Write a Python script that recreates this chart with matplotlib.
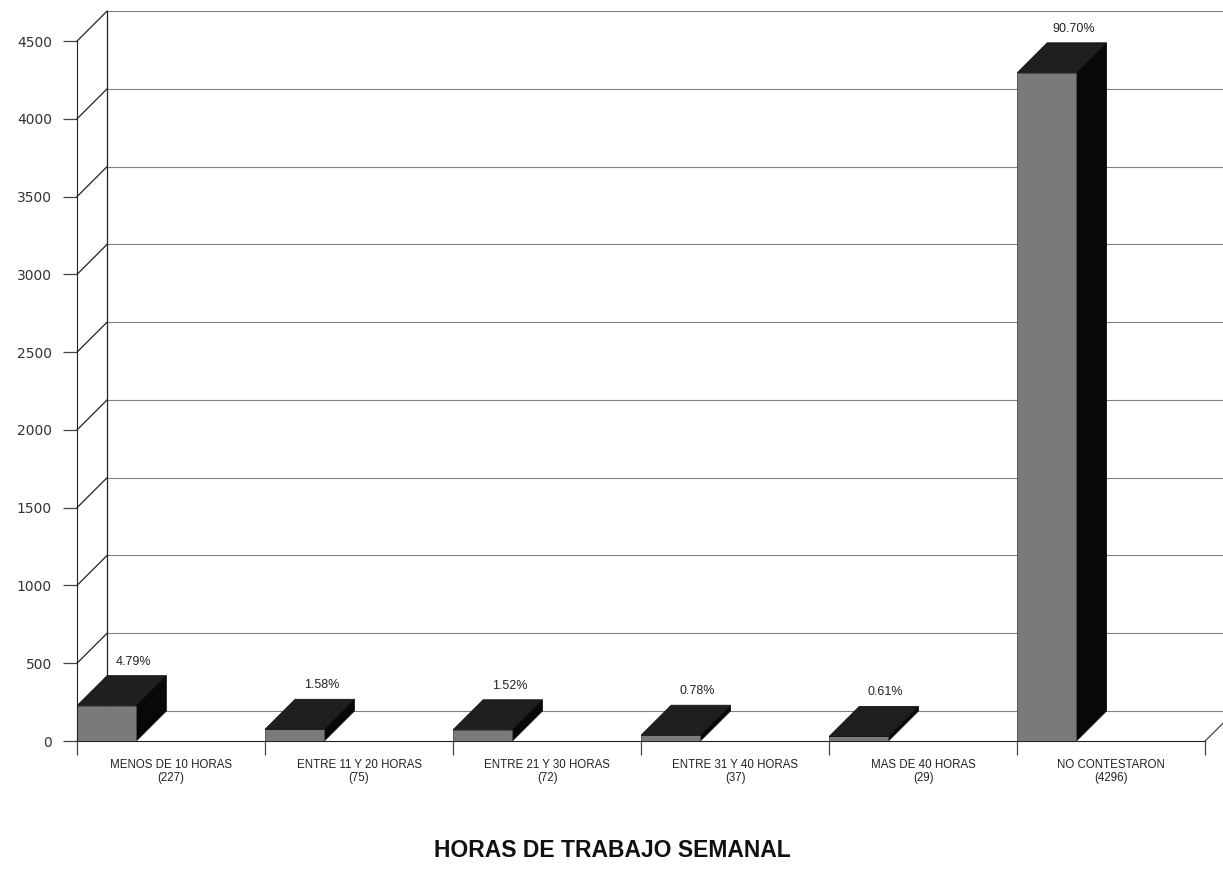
import matplotlib.pyplot as plt
from matplotlib.patches import Polygon
import numpy as np

# data
categorias = ['MENOS DE 10 HORAS', 'ENTRE 11 Y 20 HORAS', 'ENTRE 21 Y 30 HORAS',
              'ENTRE 31 Y 40 HORAS', 'MAS DE 40 HORAS', 'NO CONTESTARON']
valores = [227, 75, 72, 37, 29, 4296]
porcentajes = ['4.79%', '1.58%', '1.52%', '0.78%', '0.61%', '90.70%']
yticks = [0, 500, 1000, 1500, 2000, 2500, 3000, 3500, 4000, 4500]

# fake 3d depth, in data units
dx = 0.16
dy = 193
bw = 0.315
ymax = 4500

fig = plt.figure(figsize=(12.23, 8.72), dpi=100)
ax = fig.add_axes([77/1223, 131/872, 1147/1223, 731/872])
ax.set_xlim(0, 6.1)
ax.set_ylim(0, 4700)

n = len(categorias)
xend = 6.1

# left wall + back wall grid
for v in yticks:
    ax.plot([0, dx], [v, v + dy], color='#222222', lw=0.9, clip_on=False)
    ax.plot([dx, xend], [v + dy, v + dy], color='#808080', lw=0.8, clip_on=False)
ax.plot([dx, dx], [dy, ymax + dy], color='#222222', lw=0.9, clip_on=False)
# floor
ax.plot([n, n + dx], [0, dy], color='#444444', lw=0.9, clip_on=False)

# bars
for i, v in enumerate(valores):
    x0 = i
    x1 = i + bw
    front = Polygon([(x0, 0), (x1, 0), (x1, v), (x0, v)], closed=True,
                    facecolor='#7a7a7a', edgecolor='#4a4a4a', lw=0.6, zorder=3)
    top = Polygon([(x0, v), (x1, v), (x1 + dx, v + dy), (x0 + dx, v + dy)], closed=True,
                  facecolor='#1f1f1f', edgecolor='#111111', lw=0.6, zorder=3)
    side = Polygon([(x1, 0), (x1 + dx, dy), (x1 + dx, v + dy), (x1, v)], closed=True,
                   facecolor='#080808', edgecolor='#080808', lw=0.6, zorder=3)
    ax.add_patch(side)
    ax.add_patch(front)
    ax.add_patch(top)
    ax.text(i + 0.30, v + dy + 90, porcentajes[i], ha='center', va='center',
            fontsize=9, family='Liberation Sans', color='#222222')
    ax.text(i + 0.5, -115, categorias[i] + '\n(' + str(v) + ')', ha='center', va='top',
            fontsize=8.3, family='Liberation Sans', color='#222222', linespacing=1.1)

for s in ['top', 'right']:
    ax.spines[s].set_visible(False)
ax.spines['left'].set_bounds(0, ymax)
ax.spines['bottom'].set_bounds(0, n)
ax.spines['left'].set_color('#222222')
ax.spines['bottom'].set_color('#222222')
ax.spines['left'].set_zorder(4)

ax.set_yticks(yticks)
ax.set_yticklabels([str(t) for t in yticks], fontsize=10, color='#333333')
ax.set_xticks(np.arange(n + 1))
ax.set_xticklabels([])
ax.tick_params(axis='y', direction='out', length=10, width=0.9, pad=8, color='#444444')
ax.tick_params(axis='x', direction='out', length=10, width=0.9, color='#444444')

fig.text(612/1223, 1 - 850/872, 'HORAS DE TRABAJO SEMANAL', ha='center', va='center',
         fontsize=16.5, fontweight='bold', family='Liberation Sans', color='#111111')

fig.savefig('out.png', dpi=100)
